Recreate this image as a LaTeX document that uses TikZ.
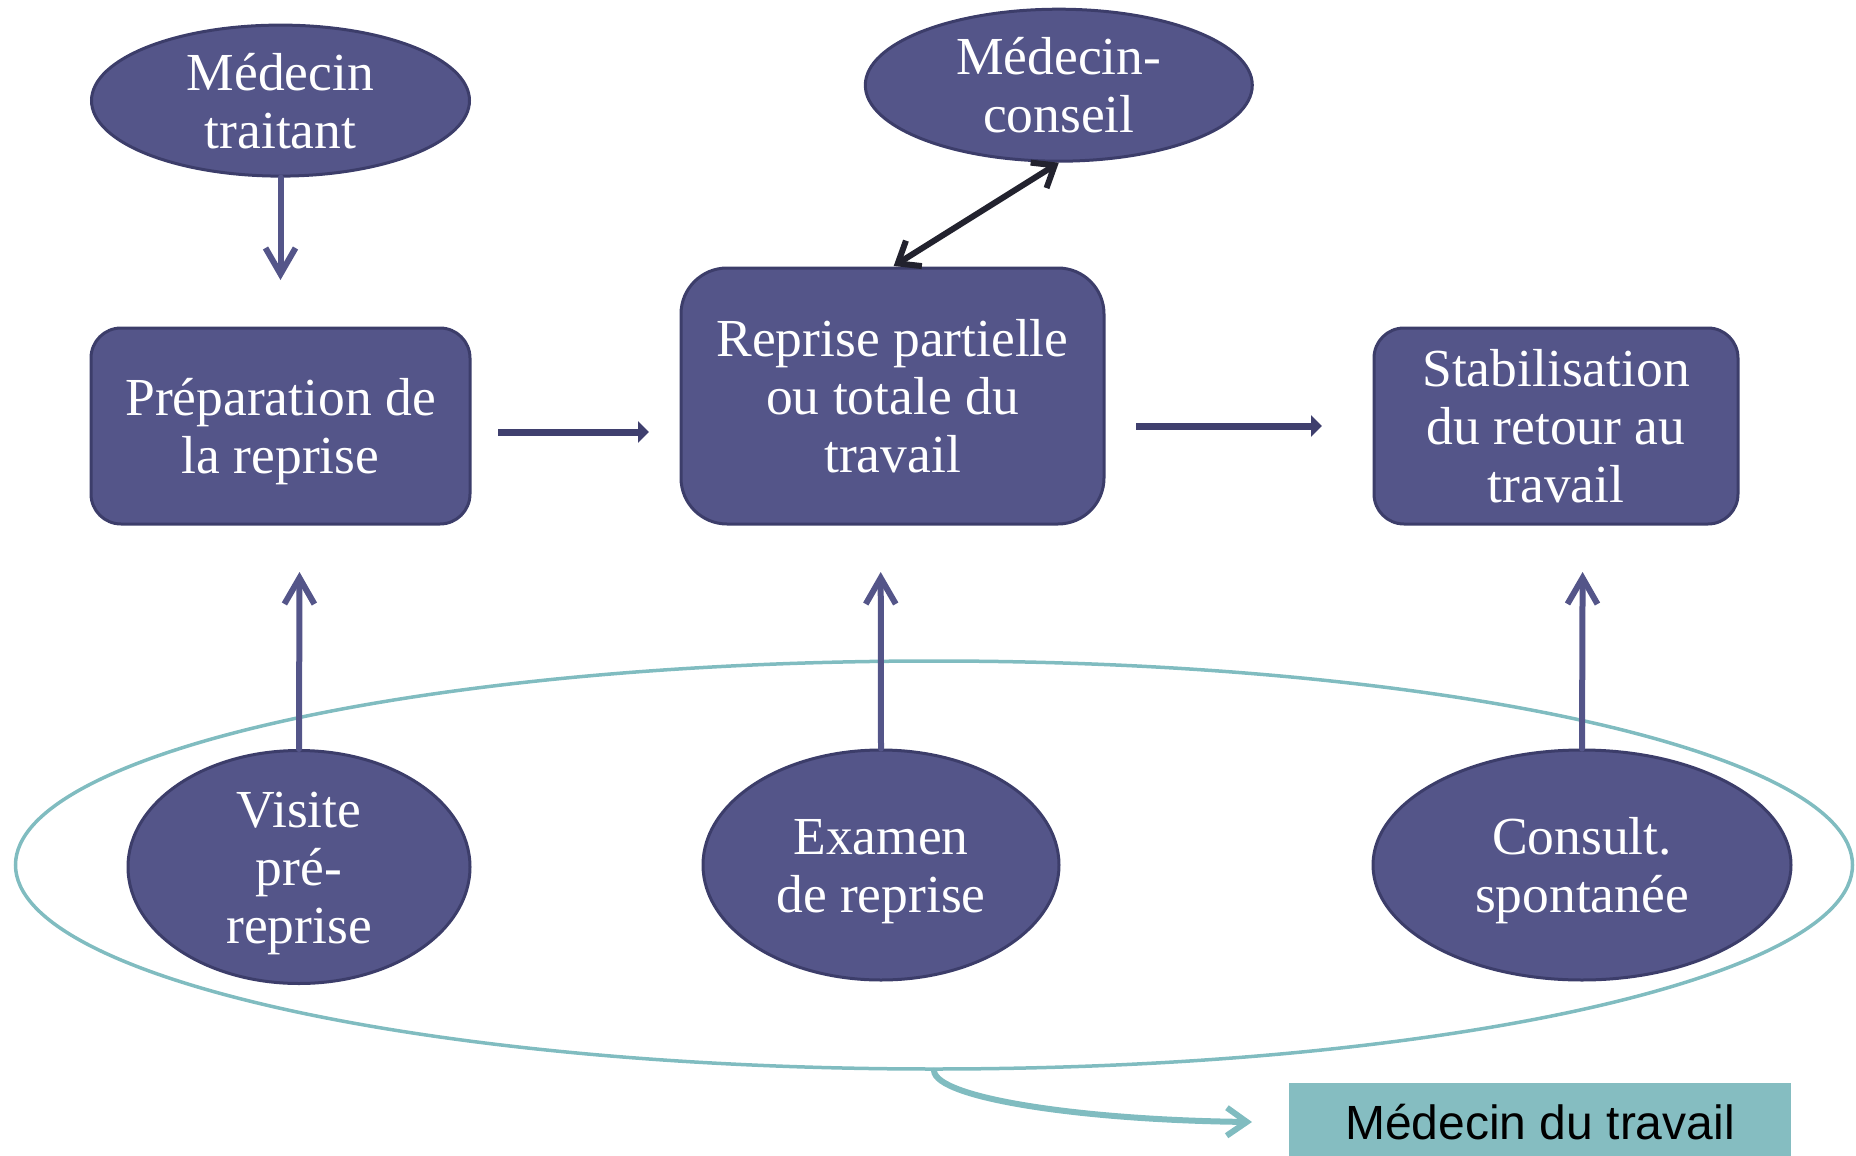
\documentclass[tikz,border=0pt]{standalone}
\usepackage{fontspec}
\setmainfont{Liberation Serif}
\newfontfamily\labelsans{Liberation Sans}
\usetikzlibrary{shapes.geometric,arrows.meta}

\definecolor{navyfill}{HTML}{545589}
\definecolor{navyedge}{HTML}{3C3D6A}
\definecolor{navyline}{HTML}{3F3F6E}
\definecolor{inklink}{HTML}{22222E}
\definecolor{tealline}{HTML}{80BCC0}
\definecolor{tealfill}{HTML}{85BDC1}

\tikzset{
  oval/.style={ellipse, fill=navyfill, draw=navyedge, line width=3pt,
    text=white, align=center, inner sep=0pt,
    font=\fontsize{53.5}{58}\selectfont},
  stepbox/.style={rectangle, fill=navyfill, draw=navyedge, line width=3pt,
    text=white, align=center, inner sep=0pt,
    font=\fontsize{53.5}{58}\selectfont},
  % centre text blocks on their line boxes, not on the glyphs
  % (the box baseline is that of the last line)
  twolines/.style={text height=95pt, text depth=0pt},
  threelines/.style={text height=153pt, text depth=0pt},
  feed/.style={draw=navyfill, line width=6pt, line cap=round,
    -{Straight Barb[length=26pt, width=30pt, line width=6pt]}},
  flow/.style={draw=navyline, line width=7pt,
    -{Triangle[length=11pt, width=21pt]}},
  twoway/.style={draw=inklink, line width=6pt, line cap=round,
    {Straight Barb[length=19pt, width=30pt, line width=6pt]}-{Straight Barb[length=19pt, width=30pt, line width=6pt]}},
  tealarrow/.style={draw=tealline, line width=6pt, line cap=round,
    -{Straight Barb[length=20pt, width=28pt, line width=6pt]}},
}

\begin{document}
\begin{tikzpicture}[x=1pt, y=-1pt]
\useasboundingbox (0,0) rectangle (1856,1156);

% occupational-health zone behind the bottom row
\node[ellipse, draw=tealline, line width=3.5pt, minimum width=1837pt,
      minimum height=408pt, inner sep=0pt] (zone) at (934,865) {};

% top row
\node[oval, twolines, minimum width=378pt, minimum height=151pt] (traitant) at (280.5,100.6) {Médecin\\traitant};
\node[oval, twolines, minimum width=387pt, minimum height=152pt] (conseil) at (1058.8,85.2) {Médecin-\\conseil};

% middle row
\node[stepbox, twolines, rounded corners=30pt, minimum width=379pt, minimum height=196pt] (prep) at (280.5,426)
  {Préparation de\\la reprise};
\node[stepbox, threelines, rounded corners=46pt, minimum width=423pt, minimum height=256pt] (reprise) at (892.5,396)
  {Reprise partielle\\ou totale du\\travail};
\node[stepbox, threelines, rounded corners=30pt, minimum width=364pt, minimum height=196pt] (stab) at (1556,426)
  {Stabilisation\\du retour au\\travail};

% bottom row
\node[oval, threelines, minimum width=342pt, minimum height=233pt] (visite) at (299,867)
  {Visite\\pré-\\reprise};
\node[oval, twolines, minimum width=356pt, minimum height=230pt] (examen) at (881,865)
  {Examen\\de reprise};
\node[oval, twolines, minimum width=418pt, minimum height=230pt] (consult) at (1582,865)
  {Consult.\\spontanée};

% label box
\node[rectangle, fill=tealfill, inner sep=0pt, minimum width=502pt,
      minimum height=78pt, font=\labelsans\fontsize{48}{56}\selectfont] (mdt) at (1540,1122) {Médecin du travail};

% free arrow ends
\coordinate (traitantEnd) at (280.5,280);
\coordinate (prepOut) at (498,432);
\coordinate (repriseIn) at (649,432);
\coordinate (repriseOut) at (1136,426);
\coordinate (stabIn) at (1322,426);
\coordinate (visiteEnd) at (299.5,572);
\coordinate (examenEnd) at (880.7,572);
\coordinate (consultEnd) at (1582.6,572);
\coordinate (repriseTop) at (893.7,266);
\coordinate (mdtIn) at (1252,1122);

% connectors
\draw[feed] (traitant.south) -- (traitantEnd);
\draw[flow] (prepOut) -- (repriseIn);
\draw[flow] (repriseOut) -- (stabIn);
\draw[twoway] (repriseTop) -- (conseil.south);
\draw[feed] (visite.north) -- (visiteEnd);
\draw[feed] (examen.north) -- (examenEnd);
\draw[feed] (consult.north) -- (consultEnd);
\draw[tealarrow] (zone.south) .. controls (936,1098) and (1080,1120) .. (mdtIn);
\end{tikzpicture}
\end{document}
